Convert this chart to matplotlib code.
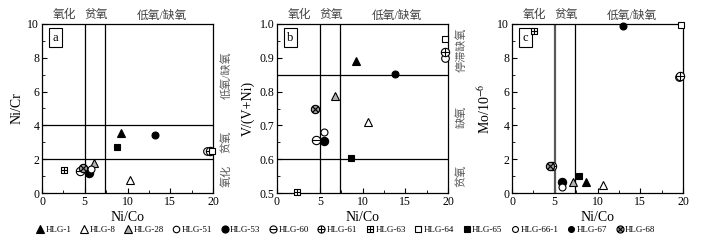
import numpy as np
import matplotlib
matplotlib.use("Agg")
import matplotlib.pyplot as plt
from matplotlib.path import Path
from matplotlib.lines import Line2D
from matplotlib.ticker import MultipleLocator
import matplotlib.transforms as mtrans

plt.rcParams['font.family'] = ['Liberation Serif', 'Noto Sans CJK SC', 'DejaVu Sans']
plt.rcParams['mathtext.fontset'] = 'stix'

samples = ['HLG-1', 'HLG-8', 'HLG-28', 'HLG-51', 'HLG-53', 'HLG-60', 'HLG-61',
           'HLG-63', 'HLG-64', 'HLG-65', 'HLG-66-1', 'HLG-67', 'HLG-68']

# Panel a: Ni/Co vs Ni/Cr
a_nico = [9.2, 10.3, 6.1, 19.3, 5.55, 4.45, 19.6, 2.6, 19.9, 8.8, 5.75, 13.2, 4.75]
a_nicr = [3.55, 0.75, 1.78, 2.5, 1.18, 1.28, 2.5, 1.35, 2.48, 2.72, 1.42, 3.42, 1.48]
# Panel b: Ni/Co vs V/(V+Ni)
b_nico = [9.2, 10.7, 6.8, 19.7, 5.5, 4.6, 19.7, 2.3, 19.7, 8.7, 5.5, 13.8, 4.4]
b_vvni = [0.89, 0.711, 0.787, 0.898, 0.655, 0.658, 0.918, 0.502, 0.955, 0.605, 0.68, 0.853, 0.75]
# Panel c: Ni/Co vs Mo
c_nico = [8.7, 10.6, 7.1, 19.5, 5.9, 4.7, 19.7, 2.6, 19.8, 7.85, 5.9, 13.0, 4.45]
c_mo = [0.68, 0.47, 0.63, 6.88, 0.63, 1.6, 6.9, 9.6, 9.96, 1.03, 0.35, 9.9, 1.58]


def circ_with(lines):
    t = np.linspace(0, 2 * np.pi, 41)
    verts = [(np.cos(v), np.sin(v)) for v in t]
    codes = [Path.MOVETO] + [Path.LINETO] * 39 + [Path.CLOSEPOLY]
    for (p, q) in lines:
        verts += [p, q]
        codes += [Path.MOVETO, Path.LINETO]
    return Path(verts, codes)


sq_cross = Path([(-1, -1), (1, -1), (1, 1), (-1, 1), (-1, -1), (-1, 0), (1, 0), (0, -1), (0, 1)],
                [Path.MOVETO, Path.LINETO, Path.LINETO, Path.LINETO, Path.CLOSEPOLY,
                 Path.MOVETO, Path.LINETO, Path.MOVETO, Path.LINETO])
theta = circ_with([((-1, 0), (1, 0))])
oplus = circ_with([((-1, 0), (1, 0)), ((0, -1), (0, 1))])
otimes = circ_with([((-0.707, -0.707), (0.707, 0.707)), ((-0.707, 0.707), (0.707, -0.707))])

styles = {
    'HLG-1': dict(marker='^', mfc='black', ms=6),
    'HLG-8': dict(marker='^', mfc='white', ms=6),
    'HLG-28': dict(marker='^', mfc='0.7', ms=6),
    'HLG-51': dict(marker='o', mfc='white', ms=5.5),
    'HLG-53': dict(marker='o', mfc='black', ms=6),
    'HLG-60': dict(marker=theta, mfc='white', ms=6),
    'HLG-61': dict(marker=oplus, mfc='white', ms=6),
    'HLG-63': dict(marker=sq_cross, mfc='white', ms=5),
    'HLG-64': dict(marker='s', mfc='white', ms=5),
    'HLG-65': dict(marker='s', mfc='black', ms=5),
    'HLG-66-1': dict(marker='o', mfc='white', ms=5),
    'HLG-67': dict(marker='o', mfc='black', ms=5),
    'HLG-68': dict(marker=otimes, mfc='0.6', ms=6),
}

fig = plt.figure(figsize=(7.05, 2.46), dpi=100)
lefts = [42, 277, 512]
axes = []
for L in lefts:
    axes.append(fig.add_axes([L / 705, 1 - 193 / 246, 171 / 705, 169 / 246]))

panels = [
    (a_nico, a_nicr, (0, 10), 'Ni/Cr', 'a', [2, 4], 2, 1,
     [(7, '低氧/缺氧'), (3, '贫氧'), (1, '氧化')]),
    (b_nico, b_vvni, (0.5, 1.0), 'V/(V+Ni)', 'b', [0.6, 0.85], 0.1, 0.05,
     [(0.925, '停滞缺氧'), (0.725, '缺氧'), (0.55, '贫氧')]),
    (c_nico, c_mo, (0, 10), 'Mo/10$^{-6}$', 'c', [], 2, 1, []),
]

for ax, (xs, ys, ylim, ylab, tag, hl, maj, mnr, rlabels) in zip(axes, panels):
    ax.set_xlim(0, 20)
    ax.set_ylim(*ylim)
    ax.xaxis.set_major_locator(MultipleLocator(5))
    ax.xaxis.set_minor_locator(MultipleLocator(2.5))
    ax.yaxis.set_major_locator(MultipleLocator(maj))
    ax.yaxis.set_minor_locator(MultipleLocator(mnr))
    ax.tick_params(which='both', direction='in', labelsize=8.5, pad=2)
    ax.tick_params(which='major', length=3.5)
    ax.tick_params(which='minor', length=2)
    if tag == 'b':
        ax.yaxis.set_major_formatter(matplotlib.ticker.FormatStrFormatter('%.1f'))
    ax.set_xlabel('Ni/Co', fontsize=10, labelpad=2)
    ax.set_ylabel(ylab, fontsize=10, labelpad=3)
    for s in ax.spines.values():
        s.set_linewidth(0.9)
    lw5 = 1.6 if tag == 'c' else 0.9
    ax.axvline(5, color='black' if tag != 'c' else '0.35', lw=lw5)
    ax.axvline(7.4, color='black', lw=0.9)
    for h in hl:
        ax.axhline(h, color='black', lw=0.9)
    for name, x, y in zip(samples, xs, ys):
        st = styles[name]
        ax.plot([x], [y], linestyle='none', marker=st['marker'], ms=st['ms'],
                mfc=st['mfc'], mec='black', mew=0.8, clip_on=False, zorder=5)
    ax.text(0.06, 0.92, tag, transform=ax.transAxes, fontsize=9, ha='left', va='center',
            bbox=dict(boxstyle='square,pad=0.3', fc='white', ec='black', lw=0.8))
    trans = mtrans.blended_transform_factory(ax.transData, ax.transAxes)
    for xt, txt in [(2.6, '氧化'), (6.3, '贫氧'), (14.0, '低氧/缺氧')]:
        ax.text(xt, 1.015, txt, transform=trans, fontsize=8.5, ha='center', va='bottom',
                color='0.25')
    rtrans = mtrans.blended_transform_factory(ax.transAxes, ax.transData)
    for yt, txt in rlabels:
        ax.text(1.075, yt, txt, transform=rtrans, rotation=90, fontsize=8, ha='center',
                va='center', color='0.35')

handles = []
for name in samples:
    st = styles[name]
    handles.append(Line2D([], [], linestyle='none', marker=st['marker'], ms=st['ms'] * 0.85,
                          mfc=st['mfc'], mec='black', mew=0.8))
fig.legend(handles, samples, loc='center', bbox_to_anchor=(0.49, 0.065), ncol=13,
           frameon=False, fontsize=6.5, handletextpad=0.1, columnspacing=0.9,
           handlelength=1.0, borderaxespad=0)

fig.savefig('out.png', dpi=100)
